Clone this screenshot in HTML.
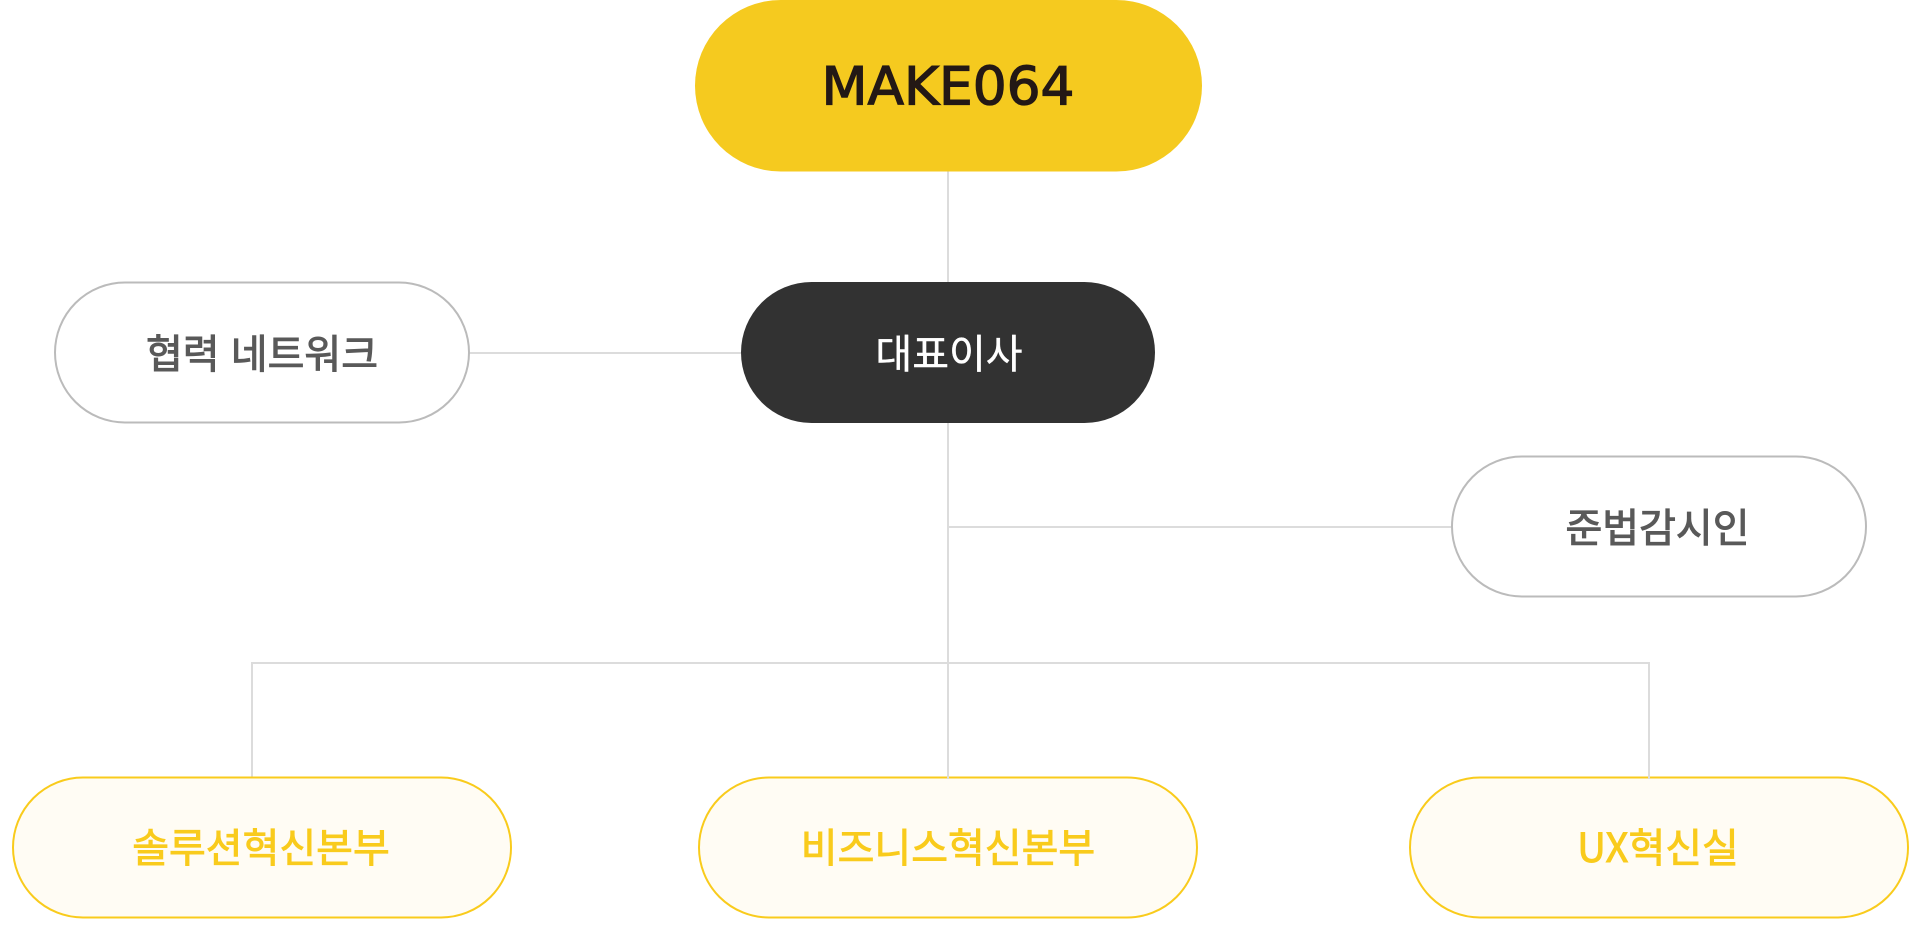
<!DOCTYPE html>
<html lang="ko"><head><meta charset="utf-8"><title>MAKE064</title>
<style>html,body{margin:0;padding:0;background:#fff}svg{display:block}
text{font-family:"Noto Sans CJK KR","Liberation Sans",sans-serif;font-size:40px;font-weight:400;text-anchor:middle;paint-order:stroke fill}
</style></head><body>
<svg width="1920" height="938" viewBox="0 0 1920 938" xmlns="http://www.w3.org/2000/svg">
<g stroke="#dcdcdc" stroke-width="2" fill="none">
<path d="M948 171V777"/>
<path d="M469 353H741"/>
<path d="M948 527H1451"/>
<path d="M252 777V663H1649V777"/>
</g>
<rect x="695" y="0" width="507" height="171.5" rx="85.75" fill="#f5ca1f"/>
<text x="948" y="104.5" style="font-family:'DejaVu Sans',sans-serif;font-size:53px" fill="#231815" stroke="#231815" stroke-width="1.3" textLength="253" lengthAdjust="spacingAndGlyphs">MAKE064</text>
<rect x="741" y="282" width="414" height="141" rx="70.5" fill="#323232"/>
<text x="949" y="368" fill="#fff" stroke="#fff" stroke-width="0.4">대표이사</text>
<rect x="55" y="282.5" width="414" height="140" rx="70" fill="#fff" stroke="#bbb" stroke-width="2"/>
<text x="262" y="368" fill="#595959" stroke="#595959" stroke-width="1">협력 네트워크</text>
<rect x="1452" y="456.5" width="414" height="140" rx="70" fill="#fff" stroke="#bbb" stroke-width="2"/>
<text x="1657.5" y="542" fill="#595959" stroke="#595959" stroke-width="1">준법감시인</text>
<g fill="#fffcf4" stroke="#f9cb1c" stroke-width="2">
<rect x="13" y="777.5" width="498" height="140" rx="70"/>
<rect x="699" y="777.5" width="498" height="140" rx="70"/>
<rect x="1410" y="777.5" width="498" height="140" rx="70"/>
</g>
<path d="M948 770V779M1649 770V779" stroke="#dcdcdc" stroke-width="2"/>
<g fill="#f9cb1c" stroke="#f9cb1c" stroke-width="0.9">
<text x="261" y="862">솔루션혁신본부</text>
<text x="948" y="862">비즈니스혁신본부</text>
<text x="1658" y="862">UX혁신실</text>
</g>
</svg>
</body></html>
